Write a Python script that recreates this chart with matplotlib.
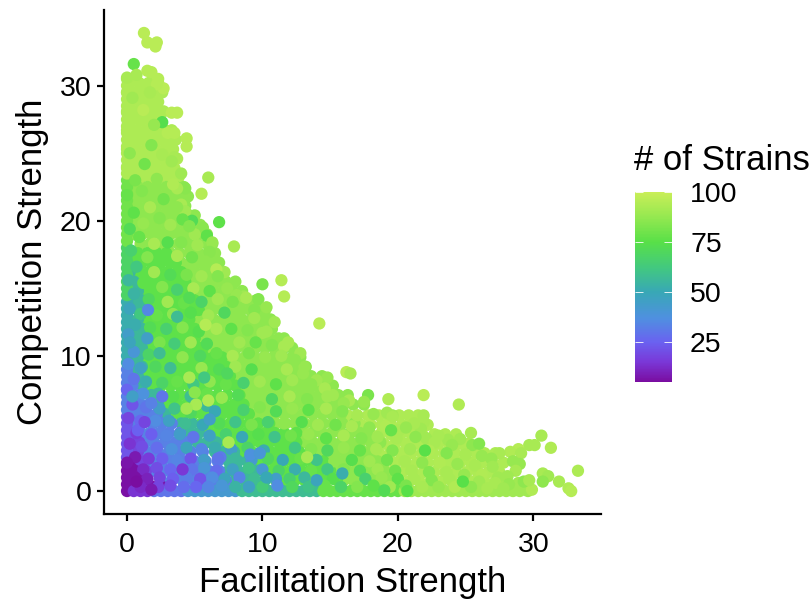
import matplotlib
matplotlib.use("Agg")
import matplotlib.pyplot as plt
from matplotlib.cm import ScalarMappable
from matplotlib.colors import LinearSegmentedColormap, Normalize

plt.rcParams['font.family'] = ['Liberation Sans', 'DejaVu Sans']

# rows of points: (competition, [facilitation, ...])
lime_rows = [
    (30.2, [0.2, 0.9, 1.6, 2.3]), (29.5, [0, 0.6, 1.3, 2, 2.6]), (28.8, [0.3, 1, 1.7, 2.3]),
    (28.1, [0, 0.7, 1.4, 2.1, 2.7]), (27.4, [0.3, 1, 1.7, 2.4]), (26.7, [0, 0.7, 1.4, 2.1, 2.8, 3.3]),
    (26, [0.3, 1, 1.7, 2.4, 3.1, 3.6]), (25.3, [0, 0.7, 1.4, 2.1, 2.8, 3.4]),
    (24.6, [0.3, 1, 1.7, 2.4, 3.1, 3.7]), (23.9, [0, 0.7, 1.4, 2.1, 2.8, 3.5]),
    (23.2, [0.3, 1, 1.7, 2.4, 3.1, 3.8]),
    (5.6, [16.3, 17, 17.8, 18.6, 19.3, 20.1, 20.8, 21.5]),
    (4.9, [17.3, 18, 18.8, 19.5, 20.3, 21, 21.8, 22.2]),
    (4.2, [18, 18.7, 19.5, 20.2, 21, 21.8, 22.7, 23.5, 24.3]),
    (3.5, [19, 19.8, 20.6, 21.4, 22.2, 23, 23.8, 24.6, 25.2]),
    (2.8, [18.6, 19.4, 20.2, 21, 21.8, 22.6, 23.4, 24.2, 25, 25.8, 26.4, 27.2]),
    (2.1, [19, 19.8, 20.6, 21.4, 22.2, 23, 23.8, 24.6, 25.4, 26.2, 27, 27.8]),
    (1.4, [19.5, 20.3, 21.1, 21.9, 22.7, 23.5, 24.3, 25.1, 25.9, 26.7, 27.5]),
    (0.7, [20, 20.8, 21.6, 22.4, 23.2, 24, 24.8, 25.6, 26.4, 27.2, 28]),
]
lgreen_rows = [
    (22.5, [0.1, 0.8, 1.5, 2.2, 2.9, 3.6, 4.2]), (21.8, [0.4, 1.1, 1.8, 2.5, 3.2, 3.9, 4.5]),
    (21.1, [0.1, 0.8, 1.5, 2.2, 2.9, 3.6, 4.3]), (20.4, [0.4, 1.1, 1.8, 2.5, 3.2, 3.9, 4.6, 5]),
    (19.7, [0.1, 0.8, 1.5, 2.2, 2.9, 3.6, 4.3, 5, 5.4]),
    (19, [0.4, 1.1, 1.8, 2.5, 3.2, 3.9, 4.6, 5.3, 5.9]),
    (18.3, [1, 1.7, 2.4, 3.1, 3.8, 4.5, 5.2, 5.9, 6.3]),
    (17.6, [3.2, 3.9, 4.6, 5.3, 6, 6.5]), (16.9, [4, 4.7, 5.4, 6.1, 6.8]),
    (16.2, [4.3, 5, 5.7, 6.4, 7.1]), (15.5, [4.6, 5.3, 6, 6.7, 7.3, 8]),
    (14.8, [5, 5.7, 6.4, 7.1, 7.8, 8.5]), (14.1, [5.3, 6, 6.7, 7.4, 8.1, 8.8, 9.5]),
    (13.4, [5.6, 6.3, 7, 7.7, 8.4, 9.1, 9.8, 10.2]),
    (12.7, [5, 5.7, 6.4, 7.1, 7.8, 8.5, 9.2, 9.9, 10.6]),
    (12, [5.3, 6, 6.7, 7.4, 8.1, 8.8, 9.5, 10.2, 10.7]),
    (11.3, [5.6, 6.3, 7, 7.7, 8.4, 9.1, 9.8, 10.5, 11.2, 11.6]),
    (10.6, [6, 6.7, 7.4, 8.1, 8.8, 9.5, 10.2, 10.9, 11.6, 12.2]),
    (9.9, [7.3, 8, 8.7, 9.4, 10.1, 10.8, 11.5, 12.2, 12.8]),
    (9.2, [7.6, 8.3, 9, 9.7, 10.4, 11.1, 11.8, 12.5, 13.2]),
    (8.5, [8, 8.7, 9.4, 10.1, 10.8, 11.5, 12.2, 12.9, 13.6, 14.4]),
    (7.8, [8.3, 9, 9.7, 10.4, 11.1, 11.8, 12.5, 13.2, 13.9, 14.6, 15.2]),
    (7.1, [8.6, 9.3, 10, 10.7, 11.4, 12.1, 12.8, 13.5, 14.2, 14.9, 15.6, 16.3]),
    (6.4, [9, 9.7, 10.4, 11.1, 11.8, 12.5, 13.2, 13.9, 14.6, 15.3, 16, 16.7, 17.5]),
    (5.7, [9.5, 10.2, 10.9, 11.6, 12.3, 13, 13.7, 14.4, 15.1, 15.8]),
    (5, [11, 11.7, 12.4, 13.1, 13.8, 14.5, 15.2, 15.9, 16.8]),
    (4.3, [13, 13.7, 14.4, 15.1, 15.8, 16.5, 17.2, 17.7]),
    (3.6, [13, 13.7, 14.4, 15.1, 15.8, 16.5, 17.2, 18, 18.7]),
    (2.9, [14, 14.7, 15.4, 16.1, 16.8, 17.5, 18]),
    (2.2, [15, 15.7, 16.4, 17.1, 17.8, 18.5]),
    (1.5, [15.5, 16.2, 16.9, 17.6, 18.3, 19]),
    (0.8, [16, 16.7, 17.4, 18.1, 18.8, 19.5]),
]
green_rows = [
    (17.6, [0.1, 0.8, 1.5, 2.2, 2.9]), (16.9, [0.4, 1.1, 1.8, 2.5, 3.2, 3.6]),
    (16.2, [0.9, 1.6, 2.3, 3, 3.7, 4]), (15.5, [1.2, 1.9, 2.6, 3.3, 4, 4.3]),
    (14.8, [1.5, 2.2, 2.9, 3.6, 4.3, 4.7]), (14.1, [1.8, 2.5, 3.2, 3.9, 4.6, 5]),
    (13.4, [1.5, 2.2, 2.9, 3.6, 4.3, 5, 5.3]), (12.7, [1.5, 2.2, 2.9, 3.6, 4.3, 4.6]),
    (12, [1.8, 2.5, 3.2, 3.9, 4.6, 5]), (11.3, [1.5, 2.2, 2.9, 3.6, 4.3, 5]),
    (10.6, [1.8, 2.5, 3.2, 3.9, 4.6, 5.3, 5.6]), (9.9, [1.5, 2.2, 2.9, 3.6, 4.3, 5, 5.7, 6.4, 7]),
    (9.2, [1.8, 2.5, 3.2, 3.9, 4.6, 5.3, 6, 6.7, 7.3]),
    (8.5, [1.5, 2.2, 2.9, 3.6, 4.3, 5, 5.7, 6.4, 7.1, 7.6]),
    (7.8, [1.8, 2.5, 3.2, 3.9, 4.6, 5.3, 6, 6.7, 7.4, 8]),
    (7.1, [2.5, 3.2, 3.9, 4.6, 5.3, 6, 6.7, 7.4, 8.3]),
    (6.4, [3, 3.7, 4.4, 5.1, 5.8, 6.5, 7.2, 7.9, 8.6]),
    (5.7, [3.5, 4.2, 4.9, 5.6, 6.3, 7, 7.7, 8.4, 9]),
    (5, [5.5, 6.2, 6.9, 7.6, 8.3, 9, 9.7, 10.5]),
    (4.3, [6, 6.7, 7.4, 8.1, 8.8, 9.5, 10.2, 10.9, 11.6, 12.5]),
    (3.6, [7, 7.7, 8.4, 9.1, 9.8, 10.5, 11.2, 11.9, 12.5]),
    (2.9, [8.5, 9.2, 9.9, 10.6, 11.3, 12, 12.7, 13.5]),
    (2.2, [9.5, 10.2, 10.9, 11.6, 12.3, 13, 13.7, 14.5]),
    (1.5, [10, 10.7, 11.4, 12.1, 12.8, 13.5, 14.2, 15]),
    (0.8, [11, 11.7, 12.4, 13.1, 13.8, 14.5, 15.5]),
]
teal_rows = [
    (16.2, [0.2]), (15.5, [0.5]), (14.8, [0.1, 0.8]), (14.1, [0.4, 1.1]), (13.4, [0.1, 0.8]),
    (12.7, [0.1, 0.8]), (12, [0.4, 1.1]), (11.3, [0.1, 0.8]), (10.6, [0.4, 1.1]),
    (9.9, [0.1, 0.8]), (9.2, [0.4, 1.1]), (8.5, [0.8]), (7.8, [1.1]), (7.1, [1.8]),
    (6.4, [2.3]), (5.7, [2.8]), (5, [4, 4.8]), (4.3, [4.6, 5.3]), (3.6, [5.2, 5.9, 6.6]),
    (2.9, [6.5, 7.2, 7.9]), (2.2, [7.5, 8.2, 8.9]), (1.5, [7.5, 8.2, 8.9, 9.6]),
    (0.8, [8, 8.7, 9.4, 10.2]),
]
blue_rows = [
    (8.5, [0.1]), (7.8, [0.4]), (7.1, [0.1, 0.9]), (6.4, [0.3, 1, 1.6]),
    (5.7, [0.1, 0.8, 1.5, 2.2]), (5, [0.4, 1.1, 1.9, 2.6, 3.3]),
    (4.3, [1, 1.7, 2.4, 3.1, 3.9]), (3.6, [1.3, 2, 2.8, 3.6, 4.4]),
    (2.9, [1.5, 2.3, 3.1, 3.9, 4.7, 5.6]), (2.2, [1.8, 2.6, 3.4, 4.2, 5, 5.8, 6.7]),
    (1.5, [2, 2.8, 3.6, 4.4, 5.2, 6, 6.8]), (0.8, [2.5, 3.3, 4.1, 4.9, 5.7, 6.5, 7.3]),
]
violet_rows = [
    (4.3, [0.1, 0.6]), (3.6, [0.3, 0.9]), (2.9, [0.1, 0.8]), (2.2, [0.4, 1.1]),
    (1.5, [0.9, 1.4]), (0.8, [1.5]),
]
purple_rows = [
    (2.2, [0.1]), (1.5, [0.1, 0.6]), (0.8, [0.2, 0.9]), (0.3, [1.2, 1.9, 2.6]),
]

# strains per layer, back to front
layer_strains = [93, 86, 76, 56, 33, 18, 7]
layer_rows = [lime_rows, lgreen_rows, green_rows, teal_rows, blue_rows, violet_rows, purple_rows]

# points sitting on competition = 0 or facilitation = 0
left_strains = [6, 22, 33, 52, 68, 80, 93]
left_y = [
    [0, 0.5, 1, 1.5, 2], [2.5, 3, 3.5, 4, 4.5, 5, 5.5], [6, 6.5, 7, 7.5, 8, 8.5, 9],
    [9.5, 10, 10.5, 11, 11.5, 12, 12.5, 13, 13.5, 14], [14.5, 15, 15.5, 16, 16.5, 17, 17.5, 18],
    [18.5, 19, 19.5, 20, 20.5, 21, 21.5, 22, 22.5, 23],
    [23.5, 24, 24.5, 25, 25.5, 26, 26.5, 27, 27.5, 28, 28.5, 29, 29.5, 30, 30.5],
]
bottom_strains = [14, 30, 42, 58, 78, 90]
bottom_x = [
    [0.5, 1, 1.5], [2, 2.5, 3, 3.5, 4], [4.5, 5, 5.5, 6, 6.5, 7, 7.5, 8],
    [8.5, 9, 9.5, 10, 10.5, 11, 11.5, 12, 12.5, 13, 13.5, 14],
    [14.5, 15, 15.5, 16, 16.5, 17, 17.5, 18, 18.5, 19, 19.5, 20],
    [20.5, 21, 21.5, 22, 22.5, 23, 23.5, 24, 24.5, 25, 25.5, 26, 26.5, 27, 27.5, 28, 28.5, 29, 29.6],
]

# outline of the cloud
edge_x = [1.25, 1.5, 2.2, 2.1, 0.5, 0, 0.7, 1.5, 1.8, 2.3, 2.7, 2.2, 1.7, 2.1, 3.7, 3.3, 3.5, 3, 2.6,
          4.4, 4.4, 3.5, 4, 6, 5.5, 4.3, 3.7, 4, 4.3, 4.8, 6.8, 5.6, 5.9, 6.3, 7.9, 5, 6.1,
          11.4, 11.6, 10, 9.7, 14.2, 9.4, 10.3, 10.9, 10.3, 11.9, 12.8, 13.1, 14.8, 16.2, 16.5,
          14, 15.2, 8.6, 7.2, 6.6, 8.1, 17.8, 19.3, 21.9, 24.5, 25.4, 30.6, 31.3, 33.3, 31.9, 32.6,
          32.8, 29.9, 30.7, 31.1, 30.7, 28.9, 29.3, 29.7, 30.1, 29.7, 28.9, 28.3, 29.1, 29, 28.5,
          28.7, 28.1, 27.5, 26.9, 25.5, 26, 24.6, 23.7, 23, 22.1, 21.9, 21.9, 21.7, 21.2, 19.6,
          19.2, 20.1, 17.5, 16.4, 19.5]
edge_y = [33.9, 33.2, 33.2, 32.9, 31.6, 30.6, 30.8, 31.1, 31, 30.5, 29.8, 30.1, 29.5, 28.4, 28, 28,
          26.5, 26.5, 27.3, 26.1, 25.5, 24.7, 23.5, 23.2, 22, 22.4, 22.4, 21.2, 20.7, 20, 19.9,
          19.5, 18.9, 18.4, 18.1, 19, 17.7, 15.6, 14.4, 15.3, 14.2, 12.4, 13.4, 13.6, 12.5, 11.8,
          11, 10.2, 9.2, 8.4, 8.8, 8.7, 8.2, 7.1, 14.4, 16.2, 16.4, 14.5, 7.1, 6.8, 7.1, 6.4, 4.3,
          4.1, 3.2, 1.5, 0.7, 0.2, 0, 0.1, 1.3, 1.1, 0.7, 0.6, 0.7, 0.8, 3.4, 3.4, 3.1, 2.9, 2.8,
          2, 2.2, 1.5, 1.1, 2.8, 2.4, 3.4, 3.5, 3.85, 3.8, 4.1, 3.9, 5.6, 5.1, 4.6, 5, 5.6, 5.8,
          4.5, 6.6, 6.7, 4.5]
edge_strains = [96, 96, 96, 96, 78, 92, 92, 95, 95, 95, 96, 95, 92, 93, 96, 96, 95, 95, 74,
                95, 95, 92, 90, 92, 95, 85, 92, 92, 90, 72, 76, 85, 76, 88, 92, 90, 85,
                95, 95, 82, 84, 96, 84, 88, 90, 90, 92, 90, 88, 88, 96, 92,
                90, 90, 90, 90, 95, 88, 82, 94, 96, 94, 92, 92, 94, 93, 92, 94,
                95, 94, 92, 90, 86, 90, 86, 92, 92, 92, 95, 94, 92, 88, 88,
                92, 90, 92, 88, 86, 84, 90, 90, 92, 90, 92, 92, 90, 92, 90,
                90, 92, 88, 92, 92]

# scattered points over the whole cloud: (facilitation, competition, strains)
scatter_top = [
    (0.4, 29.1, 90), (1.2, 28.2, 96), (2, 27.1, 88), (0.9, 26.1, 93), (1.8, 25.6, 84), (2.6, 24.9, 92),
    (0.2, 25, 86), (1.3, 24.2, 80), (3.3, 24.4, 90), (0.6, 23, 82), (2.2, 23.1, 86), (3.4, 22.7, 94),
    (1.1, 22.2, 84), (0, 21.9, 78), (2.7, 21.6, 80), (1.7, 21, 92), (3.7, 21, 86), (0.5, 20.6, 76),
    (2.4, 20.2, 84), (4.1, 20.1, 78), (1.2, 19.8, 88), (3.2, 19.7, 90), (0.2, 19.4, 72), (4.6, 19.6, 84),
    (0.9, 18.8, 78), (2, 18.3, 92), (3, 18.4, 74), (4, 18.4, 84), (5.2, 18.2, 90), (0.3, 17.8, 66),
    (1.5, 17.3, 84), (2.6, 17.2, 76), (3.7, 17.4, 92), (4.8, 17.3, 80), (5.8, 17, 86), (0.7, 16.6, 62),
    (2, 16.2, 90), (3.2, 16, 72), (4.4, 16, 82), (5.5, 15.9, 90), (6.7, 15.9, 84), (0.1, 15.6, 56),
    (1.2, 15.4, 76), (2.6, 15.1, 84), (3.7, 14.9, 66), (4.9, 15, 92), (6.1, 14.8, 76), (7.4, 15, 88),
    (0.5, 14.6, 54), (1.6, 14.2, 70), (3, 14, 90), (4.2, 13.9, 78), (5.5, 14, 68), (6.7, 14.2, 90),
    (7.8, 14, 82), (8.8, 14.3, 92),
]
scatter_mid = [
    (0.2, 13.5, 48), (1, 13.1, 62), (2.2, 13, 78), (3.4, 13.1, 86), (4.7, 13.2, 74), (6, 13, 90),
    (7.2, 13.2, 70), (8.3, 13.1, 86), (9.4, 12.8, 90), (0.6, 12.3, 52), (1.7, 12.1, 72), (2.9, 12, 66),
    (4.1, 12.1, 84), (5.3, 11.8, 74), (6.6, 12, 92), (7.7, 12, 76), (8.9, 11.9, 84), (10, 11.7, 90),
    (0.1, 11.6, 44), (1.1, 11.2, 56), (2.4, 11, 82), (3.5, 10.9, 64), (4.7, 11, 90), (5.9, 10.9, 72),
    (7.1, 11.2, 86), (8.3, 11, 90), (9.5, 11, 78), (10.7, 10.8, 84), (11.6, 10.7, 92), (0.5, 10.3, 40),
    (1.6, 10.1, 68), (3, 10.2, 76), (4.1, 9.9, 86), (5.4, 10, 70), (6.6, 10.2, 78), (7.8, 10, 92),
    (9, 10.2, 82), (10.2, 9.9, 88), (11.4, 10, 90), (12.4, 9.7, 86), (0.1, 9.4, 36), (1, 9.1, 46),
    (2.1, 9.2, 70), (3.2, 9.1, 58), (4.4, 8.9, 76), (5.5, 9.1, 88), (6.8, 9, 72), (8, 9.2, 90),
    (9.2, 9, 74), (10.6, 9, 86), (11.8, 9, 92), (13, 8.7, 88), (0.5, 8.3, 30), (1.4, 8.1, 52),
    (2.6, 8, 68), (3.7, 8.1, 78), (4.9, 7.9, 62), (6.1, 8.1, 86), (7.3, 7.9, 78), (8.6, 8, 66),
    (9.8, 8.1, 90), (11, 7.9, 76), (12.2, 8.2, 90), (13.6, 7.9, 86), (14.6, 7.6, 92), (0, 7.5, 26),
    (1.2, 7.2, 38), (2.3, 7.2, 56), (3.4, 7, 74), (4.7, 7, 58), (5.9, 7.2, 78), (7, 6.9, 88),
    (8.2, 7.1, 72), (9.5, 7, 86), (10.7, 6.8, 70), (12, 7, 92), (13.3, 6.8, 84), (14.8, 7, 90),
    (16, 6.5, 88),
]
scatter_low = [
    (0.4, 6.4, 22), (1.4, 6.2, 30), (2.4, 6.1, 44), (3.5, 6.1, 60), (4.7, 5.8, 70), (5.9, 6.3, 56),
    (7.4, 6.1, 76), (8.6, 6, 66), (9.8, 6.2, 84), (11, 5.9, 72), (12.2, 6.1, 88), (13.4, 6, 76),
    (14.7, 6.1, 92), (15.9, 5.9, 84), (17, 5.6, 92), (18.2, 5.7, 88), (19.6, 5.5, 92), (0.1, 5.4, 18),
    (1, 5.2, 26), (2.1, 5.2, 36), (3.1, 5.2, 46), (4.3, 5, 58), (5.6, 4.9, 50), (6.8, 5, 72),
    (8, 5.1, 60), (9.2, 4.9, 82), (10.4, 5.1, 66), (11.6, 5, 86), (12.9, 5.1, 74), (14.1, 4.9, 90),
    (15.4, 4.9, 80), (16.6, 4.8, 92), (17.9, 4.7, 86), (19.1, 4.8, 94), (20.6, 4.7, 88), (0.7, 4.3, 16),
    (1.8, 4.2, 24), (2.9, 4.1, 34), (3.9, 4.2, 44), (4.9, 4, 30), (6.1, 4.1, 46), (7.3, 4.2, 66),
    (8.5, 4, 50), (9.7, 4.2, 74), (10.9, 4, 60), (12.1, 4.1, 80), (13.4, 4.2, 88), (14.7, 3.9, 76),
    (16, 4.1, 92), (17.3, 3.9, 84), (18.5, 4, 90), (19.9, 3.9, 92), (21.3, 4, 86), (22.7, 3.6, 92),
    (24, 3.4, 88), (0.2, 3.5, 14), (1.1, 3.3, 20), (2.2, 3.2, 28), (3.3, 3.1, 38), (4.4, 3.2, 48),
    (5.5, 3.1, 34), (6.5, 3.2, 52), (7.7, 3.1, 44), (8.9, 3.2, 68), (10.1, 3, 52), (11.3, 3.1, 76),
    (12.4, 3.2, 62), (13.6, 3.1, 84), (14.8, 3, 70), (16, 3.2, 88), (17.2, 3, 78), (18.4, 3.1, 92),
    (19.6, 3, 84), (20.9, 3.1, 90), (22.3, 3, 94), (23.6, 2.8, 84), (25, 2.7, 92), (26.2, 2.6, 88),
]
scatter_floor = [
    (0.6, 2.5, 8), (1.6, 2.4, 16), (2.6, 2.4, 24), (3.7, 2.3, 34), (4.7, 2.4, 22), (5.7, 2.3, 44),
    (6.9, 2.5, 32), (8, 2.4, 56), (9.2, 2.3, 42), (10.4, 2.4, 70), (11.5, 2.3, 50), (12.8, 2.4, 78),
    (14, 2.3, 60), (15.3, 2.2, 86), (16.6, 2.3, 74), (17.9, 2.2, 90), (19.2, 2.3, 80), (20.5, 2.2, 92),
    (21.8, 2.1, 86), (23.1, 2.1, 94), (24.4, 2, 88), (25.7, 1.9, 92), (27, 1.8, 90), (0.3, 1.7, 6),
    (1.2, 1.6, 12), (2.2, 1.7, 20), (3.2, 1.6, 26), (4.8, 1.6, 30), (5.7, 1.7, 40), (6.6, 1.5, 28),
    (7.8, 1.6, 46), (9, 1.7, 60), (10, 1.6, 42), (11.2, 1.5, 68), (12.4, 1.6, 52), (13.6, 1.5, 78),
    (14.8, 1.6, 62), (16, 1.6, 84), (17.2, 1.5, 72), (18.5, 1.6, 90), (19.8, 1.5, 80), (21, 1.5, 92),
    (22.3, 1.4, 84), (23.6, 1.4, 92), (24.9, 1.2, 88), (26.2, 1.2, 94), (27.4, 1, 90), (0.6, 1, 6),
    (1.5, 0.9, 10), (2.4, 1, 18), (3.4, 0.9, 24), (4.4, 1, 32), (5.4, 0.9, 22), (6.3, 1, 36),
    (7.2, 0.9, 48), (8.3, 1, 34), (9.4, 0.9, 58), (11, 0.9, 44), (12, 0.9, 66), (13.1, 1, 56),
    (15.2, 0.9, 74), (16.4, 1, 86), (17.6, 0.9, 66), (18.8, 1, 88), (20, 0.9, 76), (21.2, 0.9, 92),
    (22.5, 0.8, 84), (23.8, 0.9, 92), (26, 0.7, 90), (27.2, 0.6, 92), (28.2, 0.5, 88), (1, 0.3, 12),
    (2.3, 0.3, 18), (3.2, 0.4, 20), (4.2, 0.3, 28), (5.1, 0.3, 26), (6, 0.3, 34), (7, 0.4, 40),
    (8, 0.3, 54), (9, 0.3, 46), (10, 0.3, 64), (11.1, 0.4, 36), (12.2, 0.3, 70), (13.4, 0.3, 60),
    (14.6, 0.4, 78), (15.8, 0.3, 68), (17, 0.3, 84), (18.2, 0.4, 76), (19.4, 0.3, 90), (20.6, 0.4, 82),
    (21.8, 0.3, 92), (23, 0.3, 88), (24.2, 0.3, 94), (25.4, 0.3, 86), (26.6, 0.2, 92), (27.8, 0.2, 90),
]

# mixed points on top of the layers
mix_x = [1.55, 3.7, 0.2, 1.5, 0.4, 2.6, 1.8, 0.8, 1.3, 4.1, 0, 0.7, 1.8, 14, 10.3, 9.1, 9.8, 6.7,
         6.5, 6.1, 5.1, 4.4, 6, 4.6, 7.5, 13.3, 5.8, 4.6, 2.4, 5, 5.7, 7.4, 24.8, 22, 19.5, 15.9,
         19, 20.7]
mix_y = [13.4, 12.9, 11, 11.3, 7, 7, 6.5, 4.5, 5.1, 1.6, 2.1, 0.7, 0.1, 0.8, 1, 2.7, 2.8, 2.4,
         5.9, 5.3, 6.4, 6.1, 6.7, 8.4, 3.6, 2.5, 12.3, 14.3, 10.2, 7.3, 8.4, 8.7, 0.7, 3, 4.5, 1.3,
         0.05, 0]
mix_strains = [35, 58, 48, 45, 45, 30, 33, 25, 18, 15, 7, 5, 8, 48, 50, 38, 40, 30,
               50, 45, 92, 90, 94, 92, 92, 92, 95, 72, 58, 85, 62, 70, 75, 75, 78, 52,
               72, 75]

strain_colors = [(0.0, "#7a0da0"), (0.105, "#7a38d8"), (0.21, "#6a62f0"), (0.335, "#4f90e0"),
                 (0.475, "#38a8b5"), (0.6, "#42c880"), (0.737, "#58e048"), (0.87, "#95e850"),
                 (1.0, "#c9ee58")]
strain_cmap = LinearSegmentedColormap.from_list("strains", strain_colors)
strain_norm = Normalize(5, 100)

fig = plt.figure(figsize=(8.12, 5.99), dpi=100)
ax = fig.add_axes([104 / 812, 85 / 599, 497 / 812, 504 / 599])


def draw(xs, ys, ns):
    ax.scatter(xs, ys, c=ns, cmap=strain_cmap, norm=strain_norm, s=78, linewidths=0, zorder=3)


for n, rows in zip(layer_strains, layer_rows):
    xs = [x for y, row in rows for x in row]
    ys = [y for y, row in rows for x in row]
    draw(xs, ys, [n] * len(xs))

for n, ys in zip(left_strains, left_y):
    draw([0] * len(ys), ys, [n] * len(ys))
for n, xs in zip(bottom_strains, bottom_x):
    draw(xs, [0] * len(xs), [n] * len(xs))

draw(edge_x, edge_y, edge_strains)
for pts in [scatter_top, scatter_mid, scatter_low, scatter_floor]:
    draw([p[0] for p in pts], [p[1] for p in pts], [p[2] for p in pts])
draw(mix_x, mix_y, mix_strains)

ax.set_xlim(-1.7, 35)
ax.set_ylim(-1.7, 35.6)
ax.set_xticks([0, 10, 20, 30])
ax.set_yticks([0, 10, 20, 30])
ax.spines[['top', 'right']].set_visible(False)
ax.spines[['left', 'bottom']].set_linewidth(1.6)
ax.tick_params(width=1.6, length=5, labelsize=20.5)
ax.tick_params(axis='x', pad=8)
ax.tick_params(axis='y', pad=4)
ax.set_xlabel("Facilitation Strength", fontsize=25, labelpad=6)
ax.set_ylabel("Competition Strength", fontsize=25, labelpad=8)

cax = fig.add_axes([635 / 812, 217 / 599, 37 / 812, 190 / 599])
cbar = fig.colorbar(ScalarMappable(norm=strain_norm, cmap=strain_cmap), cax=cax)
cbar.set_ticks([25, 50, 75, 100])
cbar.outline.set_visible(False)
cax.tick_params(axis='y', left=True, right=True, direction='in', length=5.5, width=0.6,
                color='white', labelsize=20.5, pad=13)
fig.text(634 / 812, 1 - 161 / 599, "# of Strains", fontsize=25, ha='left', va='center')

fig.savefig("out.png", dpi=100)
